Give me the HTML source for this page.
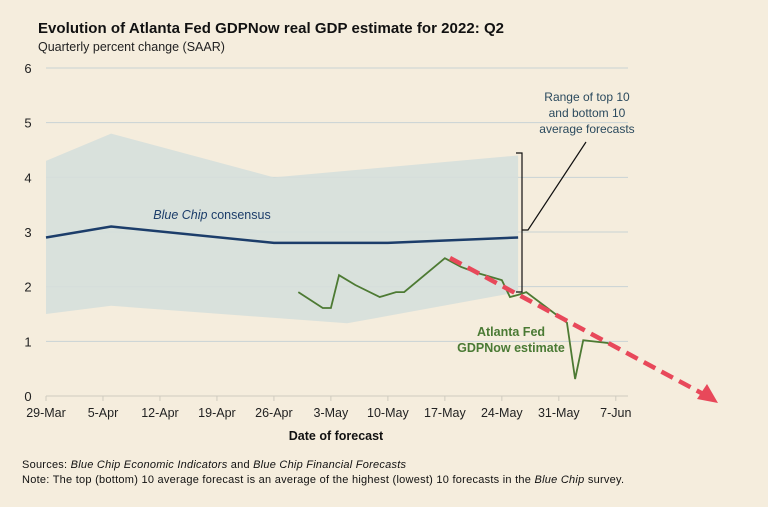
<!DOCTYPE html>
<html><head><meta charset="utf-8"><style>
body{margin:0;background:#f5eddd;}
svg{display:block;font-family:"Liberation Sans",sans-serif;}
</style></head><body>
<svg id="chart" width="768" height="507" viewBox="0 0 768 507">
<rect width="768" height="507" fill="#f5eddd"/>
<text x="38" y="33" font-size="15" font-weight="bold" fill="#111" textLength="466">Evolution of Atlanta Fed GDPNow real GDP estimate for 2022: Q2</text>
<text x="38" y="51" font-size="12.5" fill="#222">Quarterly percent change (SAAR)</text>
<g id="grid"></g>
<g id="band"></g>
<g id="lines"></g>
<g id="xt"></g>
<g id="yt"></g>
<text x="336" y="440" font-size="12.5" font-weight="bold" text-anchor="middle" fill="#111">Date of forecast</text>
<text x="212" y="219" font-size="12.5" font-style="italic" text-anchor="middle" fill="#1c3d6a">Blue Chip <tspan font-style="normal">consensus</tspan></text>
<text x="511" y="336" font-size="12.5" text-anchor="middle" fill="#4a7a34" font-weight="bold">Atlanta Fed</text>
<text x="511" y="352" font-size="12.5" text-anchor="middle" fill="#4a7a34" font-weight="bold">GDPNow estimate</text>
<g fill="#2b4a5e" font-size="12" text-anchor="middle">
<text x="587" y="101">Range of top 10</text>
<text x="587" y="117">and bottom 10</text>
<text x="587" y="133">average forecasts</text>
</g>
<path d="M516,153 H522 V292 H516 M522,230 H528 L586,142" fill="none" stroke="#111" stroke-width="1.2"/>
<line x1="450" y1="258" x2="705" y2="395" stroke="#e8485a" stroke-width="4.5" stroke-dasharray="13,7"/>
<polygon points="718,403 697,399 707,384" fill="#e8485a"/>
<text x="22" y="468" font-size="11" fill="#111" textLength="384">Sources: <tspan font-style="italic">Blue Chip Economic Indicators</tspan> and <tspan font-style="italic">Blue Chip Financial Forecasts</tspan></text>
<text x="22" y="483" font-size="11" fill="#111" textLength="602">Note: The top (bottom) 10 average forecast is an average of the highest (lowest) 10 forecasts in the <tspan font-style="italic">Blue Chip</tspan> survey.</text>
</svg>
<script>
const xLabels=["29-Mar","5-Apr","12-Apr","19-Apr","26-Apr","3-May","10-May","17-May","24-May","31-May","7-Jun"];
const yTicks=[0,1,2,3,4,5,6];
const blueDays=[0,8,28,42,58];
const blueVals=[2.9,3.1,2.8,2.8,2.9];
const bandDays=[0,8,28,58];
const bandHigh=[4.3,4.8,4.0,4.4];
const bandLowDays=[0,8,37,58];
const bandLow=[1.5,1.65,1.33,1.9];
const gdpDays=[31,34,35,36,38,41,43,44,49,51,53,56,57,58,59,64,65,66,69,70];
const gdpVals=[1.9,1.61,1.61,2.21,2.03,1.81,1.9,1.9,2.52,2.36,2.25,2.12,1.81,1.85,1.9,1.34,0.31,1.02,0.97,0.9];
const X=d=>46+d*8.14, Y=v=>396-v*54.67;
const NS="http://www.w3.org/2000/svg";
function mk(p,t,a){const e=document.createElementNS(NS,t);for(const k in a)e.setAttribute(k,a[k]);document.getElementById(p).appendChild(e);return e;}
yTicks.forEach(v=>{
 const l=mk('grid','line',{x1:46,x2:628,y1:Y(v),y2:Y(v),stroke:v==0?'#cfcbbf':'#c9d3d4','stroke-width':1});
 
 
 const t=mk('yt','text',{x:28,y:Y(v)+5,'font-size':13,'text-anchor':'middle',fill:'#222'});t.textContent=v;
 
 
});
xLabels.forEach((s,i)=>{
 const x=X(i*7);
 const tk=mk('xt','line',{x1:x,x2:x,y1:396,y2:401,stroke:'#cfcbbf'});
 
 
 const t=mk('xt','text',{x:x,y:417,'font-size':12.5,'text-anchor':'middle',fill:'#222'});t.textContent=s;
 
 
});
let pts=bandDays.map((d,i)=>X(d)+','+Y(bandHigh[i]));
for(let i=bandLowDays.length-1;i>=0;i--)pts.push(X(bandLowDays[i])+','+Y(bandLow[i]));
const b=mk('band','polygon',{points:pts.join(' '),fill:'#d6dfdb',opacity:0.9});


const bl=mk('lines','polyline',{points:blueDays.map((d,i)=>X(d)+','+Y(blueVals[i])).join(' '),fill:'none',stroke:'#1c3d6a','stroke-width':2.5});


const gl=mk('lines','polyline',{points:gdpDays.map((d,i)=>X(d)+','+Y(gdpVals[i])).join(' '),fill:'none',stroke:'#4d7a33','stroke-width':1.8});


</script>
</body></html>
